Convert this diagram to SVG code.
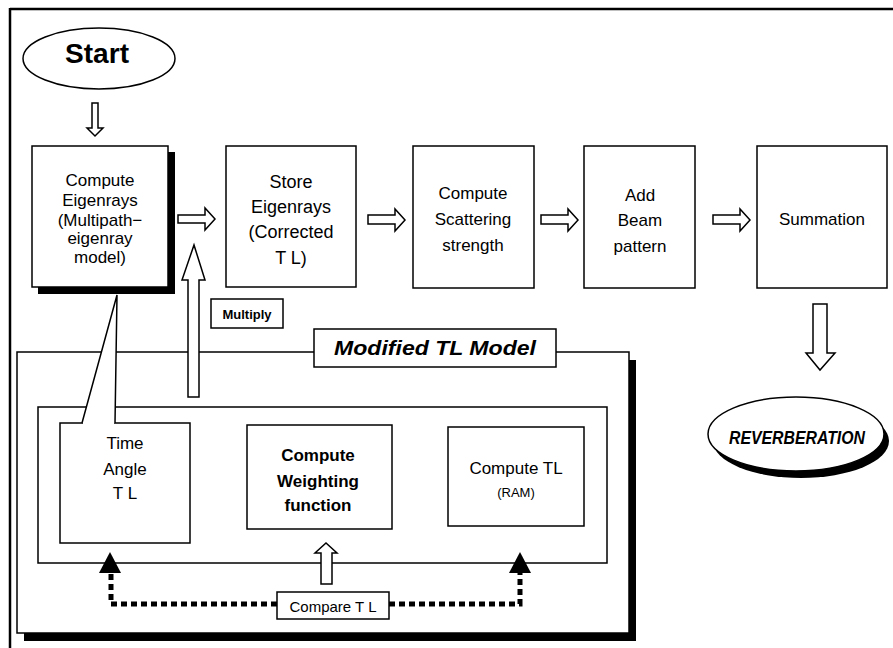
<svg xmlns="http://www.w3.org/2000/svg" width="893" height="648" viewBox="0 0 893 648">
<style>
.bx{fill:#fff;stroke:#000;stroke-width:1.5}
.sh{fill:#000}
.t{font-family:"Liberation Sans",Arial,sans-serif;font-size:17px;text-anchor:middle;fill:#000}
.b{font-weight:bold}
.ha{fill:#fff;stroke:#000;stroke-width:1.5;stroke-linejoin:miter}
.dot{fill:none;stroke:#000;stroke-width:5;stroke-dasharray:6 4}
</style>
<rect width="893" height="648" fill="#fff"/>
<g id="frame">
<line x1="10" y1="9" x2="893" y2="9" stroke="#000" stroke-width="2.5"/>
<line x1="10" y1="8" x2="10" y2="648" stroke="#000" stroke-width="2.5"/>
</g>
<g id="start">
<ellipse cx="99" cy="58.5" rx="76" ry="30.5" class="bx"/>
<text x="97" y="63" class="t b" style="font-size:28px" textLength="64" lengthAdjust="spacingAndGlyphs">Start</text>
</g>
<g id="modified-tl-model">
<rect x="24" y="360" width="612" height="281" class="sh"/>
<rect x="17" y="352" width="612" height="281" class="bx"/>
<rect x="38" y="407" width="569" height="156" class="bx"/>
<rect x="314" y="329" width="242" height="38" class="bx"/>
<text x="435" y="355" class="t b" style="font-size:21px;font-style:italic" textLength="202" lengthAdjust="spacingAndGlyphs">Modified TL Model</text>
</g>
<g id="eigenrays">
<rect x="38" y="152" width="137" height="142" class="sh"/>
<rect x="32" y="146" width="136" height="141" class="bx"/>
<text class="t"><tspan x="100" y="186">Compute</tspan><tspan x="100" y="206">Eigenrays</tspan><tspan x="100" y="226">(Multipath−</tspan><tspan x="100" y="244">eigenray</tspan><tspan x="100" y="263">model)</tspan></text>
</g>
<g id="store">
<rect x="226" y="146" width="130" height="141" class="bx"/>
<text class="t" style="font-size:18px"><tspan x="291" y="188">Store</tspan><tspan x="291" y="213">Eigenrays</tspan><tspan x="291" y="238">(Corrected</tspan><tspan x="291" y="264">T L)</tspan></text>
</g>
<g id="scattering">
<rect x="413" y="146" width="121" height="142" class="bx"/>
<text class="t"><tspan x="473" y="199">Compute</tspan><tspan x="473" y="225">Scattering</tspan><tspan x="473" y="251">strength</tspan></text>
</g>
<g id="beam">
<rect x="584" y="146" width="111" height="142" class="bx"/>
<text class="t"><tspan x="640" y="201">Add</tspan><tspan x="640" y="226">Beam</tspan><tspan x="640" y="252">pattern</tspan></text>
</g>
<g id="summation">
<rect x="757" y="146" width="130" height="142" class="bx"/>
<text x="822" y="225" class="t">Summation</text>
</g>
<g id="reverberation">
<ellipse cx="801" cy="441" rx="88" ry="37" class="sh"/>
<ellipse cx="796" cy="434" rx="88" ry="37" class="bx"/>
<text x="797" y="444" class="t b" style="font-size:19px;font-style:italic" textLength="136" lengthAdjust="spacingAndGlyphs">REVERBERATION</text>
</g>
<g id="multiply">
<rect x="211" y="299" width="72" height="29" class="bx"/>
<text x="247" y="319" class="t b" style="font-size:13px">Multiply</text>
</g>
<g id="time-angle">
<rect x="60" y="423" width="130" height="120" class="bx"/>
<text class="t"><tspan x="125" y="449">Time</tspan><tspan x="125" y="475">Angle</tspan><tspan x="125" y="499">T L</tspan></text>
</g>
<g id="weighting">
<rect x="247" y="425" width="145" height="104" class="bx"/>
<text class="t b"><tspan x="318" y="461">Compute</tspan><tspan x="318" y="487">Weighting</tspan><tspan x="318" y="511">function</tspan></text>
</g>
<g id="compute-tl">
<rect x="448" y="427" width="136" height="99" class="bx"/>
<text x="516" y="474" class="t">Compute TL</text>
<text x="516" y="497" class="t" style="font-size:13px">(RAM)</text>
</g>
<g id="compare">
<rect x="277" y="592" width="112" height="27" class="bx"/>
<text x="333" y="612" class="t" style="font-size:15px">Compare T L</text>
</g>
<g id="connectors">
<polygon class="ha" points="92,103 98,103 98,128 103,128 95,136 87,128 92,128"/>
<polygon class="ha" points="178,215 205,215 205,208 215,219 205,230 205,223 178,223"/>
<polygon class="ha" points="368,215 395,215 395,209 405,220 395,231 395,224 368,224"/>
<polygon class="ha" points="541,215 568,215 568,209 578,220 568,231 568,224 541,224"/>
<polygon class="ha" points="713,215 740,215 740,209 750,220 740,231 740,224 713,224"/>
<polygon class="ha" points="813,304 827,304 827,353 835,353 820,370 806,353 813,353"/>
<polygon class="ha" points="188,397 188,280 182,280 194,245 205,280 199,280 199,397"/>
<polyline points="82,423 117,295 115,423" fill="#fff" stroke="#000" stroke-width="1.5"/>
<line x1="83" y1="423" x2="114" y2="423" stroke="#fff" stroke-width="2"/>
<polygon class="ha" points="321,584 321,553 315,553 326,543 337,553 332,553 332,584"/>
<polyline class="dot" points="277,604 111,604 111,572"/>
<polygon points="99,573 110,552 121,573" fill="#000"/>
<polyline class="dot" points="389,604 520,604 520,572"/>
<polygon points="509,573 520,552 531,573" fill="#000"/>
</g>
</svg>
